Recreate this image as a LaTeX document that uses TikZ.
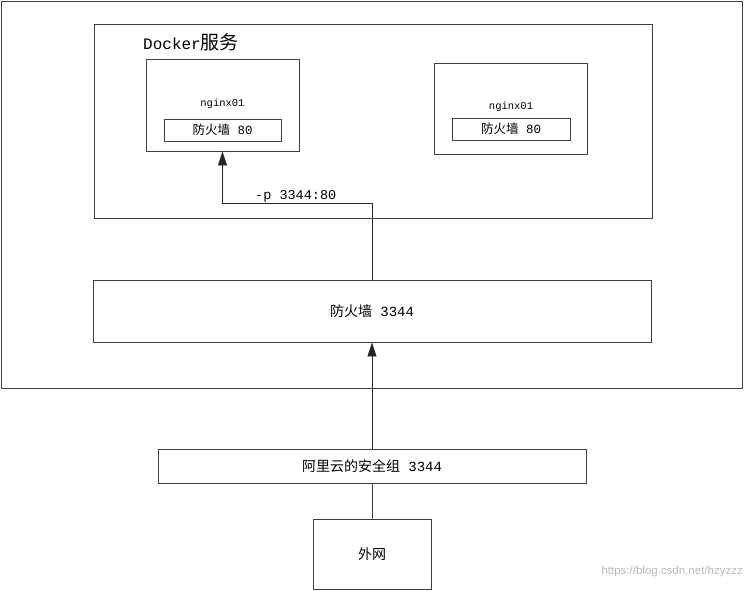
\documentclass[tikz,border=0pt]{standalone}
\usepackage{fontspec}
\setmainfont{Liberation Mono}
\newfontfamily\cjk{Noto Sans CJK SC}
\newfontfamily\wmfont{Liberation Sans}
\usetikzlibrary{arrows.meta,positioning,calc}
\tikzset{
hostbox/.style={rectangle,draw=black!75,line width=0.9pt,inner sep=0pt},
fwbox/.style={hostbox,font=\fontsize{14}{16}\selectfont},
portbox/.style={hostbox,font=\fontsize{12.5}{14}\selectfont},
namelbl/.style={inner sep=0pt,font=\fontsize{10.5}{12}\selectfont},
flowarr/.style={draw=black!85,line width=0.9pt,-{Triangle[width=9pt,length=14pt]}},
flowline/.style={draw=black!75,line width=0.9pt}
}
\begin{document}
\begin{tikzpicture}[x=1pt,y=-1pt]
\useasboundingbox (0,0) rectangle (744,590);
% host and docker
\node[hostbox,minimum width=741,minimum height=387] (host) at (371.5,194.5) {};
\node[hostbox,minimum width=558,minimum height=194] (docker) at (373,121) {};
\node[inner sep=0pt,anchor=west,font=\fontsize{16}{19}\selectfont] (dlbl) at (143,42) {Docker{\cjk\fontsize{19}{22}\selectfont 服务}};
% containers
\node[hostbox,minimum width=153,minimum height=92] (ngxa) at (222.5,105) {};
\node[portbox,minimum width=117,minimum height=22] (porta) at (222.5,130) {{\cjk 防火墙} 80};
\node[namelbl] (namea) at (222.5,104) {nginx01};
\node[hostbox,minimum width=153,minimum height=91] (ngxb) at (510.5,108.5) {};
\node[portbox,minimum width=118,minimum height=22] (portb) at (511,129) {{\cjk 防火墙} 80};
\node[namelbl] (nameb) at (511,107) {nginx01};
% firewalls and outside
\node[fwbox,minimum width=558,minimum height=62] (fw) at (372,311) {{\cjk 防火墙} 3344};
\node[fwbox,minimum width=428,minimum height=34] (sg) at (372,466) {{\cjk 阿里云的安全组} 3344};
\node[fwbox,minimum width=118,minimum height=70] (wan) at (372,554) {{\cjk 外网}};
\node[inner sep=0pt,anchor=west,font=\fontsize{13.5}{16}\selectfont] (maplbl) at (255,196) {-p 3344:80};
\draw[flowarr] (fw.north) -- ++(0,-76) -| (ngxa.south);
\draw[flowarr] (sg.north) -- (fw.south);
\draw[flowline] (wan.north) -- (sg.south);
\node[inner sep=0pt,anchor=east,text=black!28,font=\wmfont\fontsize{11.5}{13}\selectfont] (wm) at (743,572) {https://blog.csdn.net/hzyzzz};
\end{tikzpicture}
\end{document}
